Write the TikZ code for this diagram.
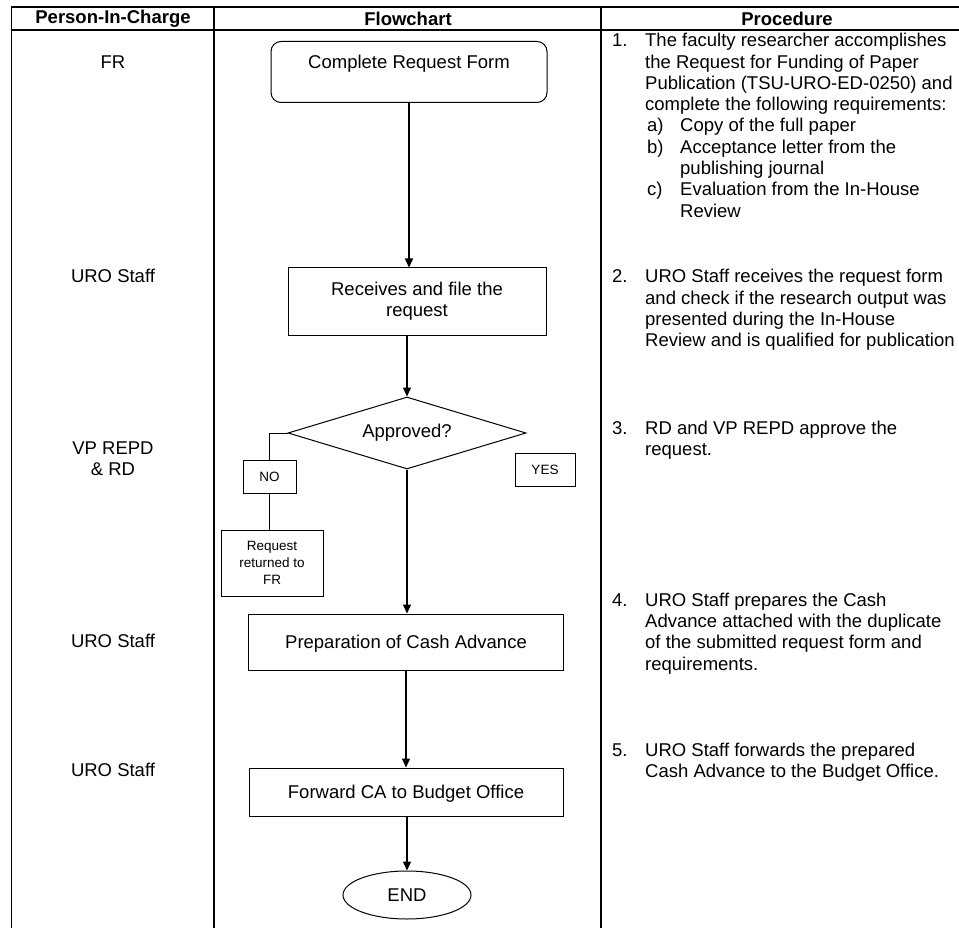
\documentclass[tikz,border=0pt]{standalone}
\usepackage{fontspec}
\setmainfont{Liberation Sans}
\usetikzlibrary{shapes.geometric, arrows.meta}

\tikzset{
    txt/.style={font=\fontsize{18.5}{21.3}\selectfont},
    small/.style={font=\fontsize{13.5}{17}\selectfont},
    head/.style={font=\fontsize{18.5}{21.3}\selectfont\bfseries},
    grid/.style={line width=1.6pt},
    box/.style={draw, line width=1pt, align=center, inner sep=0pt},
    flow/.style={line width=1.4pt, -{Triangle[length=9pt,width=8pt]}},
    link/.style={line width=1pt},
    proc/.style={txt, anchor=north west, inner sep=0pt}
}

\begin{document}
\begin{tikzpicture}[x=1pt, y=-1pt]
    \useasboundingbox (0,0) rectangle (959,928);
    \clip (0,0) rectangle (959,928);

    % Draw table
    \draw[grid] (990,7) -- (11.5,7) -- (11.5,940);
    \draw[grid] (11.5,30) -- (990,30);
    \foreach \x in {214,601}
        \draw[grid] (\x,7) -- (\x,940);

    % Column headings
    \node[head] (hpic) at (113,18.5) {Person-In-Charge};
    \node[head] (hflow) at (408,18.5) {Flowchart};
    \node[head] (hproc) at (787,18.5) {Procedure};

    % Person-in-charge
    \node[txt] (pic1) at (113,62) {FR};
    \node[txt] (pic2) at (113,276) {URO Staff};
    \node[txt, align=center] (pic3) at (113,458.5) {VP REPD\\\& RD};
    \node[txt] (pic4) at (113,641) {URO Staff};
    \node[txt] (pic5) at (113,770) {URO Staff};

    % Flowchart
    \node[box, txt, text depth=0pt, rounded corners=10pt, minimum width=276, minimum height=61] (start) at (409,72) {Complete Request Form\\\strut};
    \node[box, txt, minimum width=258, minimum height=67] (recv) at (417,301.5) {Receives and file the\\request};
    \node[box, txt, diamond, aspect=3.3, minimum width=238, minimum height=72] (dec) at (407,433) {Approved?};
    \node[box, small, minimum width=53, minimum height=33] (no) at (269.5,476.5) {NO};
    \node[box, small, minimum width=102, minimum height=66] (ret) at (272,563) {Request\\returned to\\FR};
    \node[box, small, minimum width=60, minimum height=33] (yes) at (545,469.5) {YES};
    \node[box, txt, text depth=0pt, minimum width=315, minimum height=56] (prep) at (406,642) {Preparation of Cash Advance};
    \node[box, txt, text depth=0pt, minimum width=314, minimum height=48] (fwd) at (406,792) {Forward CA to Budget Office};
    \node[box, txt, ellipse, minimum width=128, minimum height=48] (end) at (407,895) {END};

    \draw[flow] (start.south) -- (start.south |- recv.north);
    \draw[flow] (dec.north |- recv.south) -- (dec.north);
    \draw[flow] (dec.south) -- (dec.south |- prep.north);
    \draw[flow] (prep.south) -- (prep.south |- fwd.north);
    \draw[flow] (end.north |- fwd.south) -- (end.north);
    \draw[link] (dec.west) -| (no.north);
    \draw[link] (no.south) -- (no.south |- ret.north);

    % Procedure
    \node[proc] (step1) at (612,31.6) {\begin{tabular}{@{}p{33pt}@{}l@{}}
        1. & The faculty researcher accomplishes\\
           & the Request for Funding of Paper\\
           & Publication (TSU-URO-ED-0250) and\\
           & complete the following requirements:\\
           & \makebox[35pt][l]{\hspace{2pt}a)}Copy of the full paper\\
           & \makebox[35pt][l]{\hspace{2pt}b)}Acceptance letter from the\\
           & \hspace{35pt}publishing journal\\
           & \makebox[35pt][l]{\hspace{2pt}c)}Evaluation from the In-House\\
           & \hspace{35pt}Review
    \end{tabular}};
    \node[proc] (step2) at (612,267.8) {\begin{tabular}{@{}p{33pt}@{}l@{}}
        2. & URO Staff receives the request form\\
           & and check if the research output was\\
           & presented during the In-House\\
           & Review and is qualified for publication
    \end{tabular}};
    \node[proc] (step3) at (612,419.1) {\begin{tabular}{@{}p{33pt}@{}l@{}}
        3. & RD and VP REPD approve the\\
           & request.
    \end{tabular}};
    \node[proc] (step4) at (612,591.1) {\begin{tabular}{@{}p{33pt}@{}l@{}}
        4. & URO Staff prepares the Cash\\
           & Advance attached with the duplicate\\
           & of the submitted request form and\\
           & requirements.
    \end{tabular}};
    \node[proc] (step5) at (612,741.1) {\begin{tabular}{@{}p{33pt}@{}l@{}}
        5. & URO Staff forwards the prepared\\
           & Cash Advance to the Budget Office.
    \end{tabular}};
\end{tikzpicture}
\end{document}
